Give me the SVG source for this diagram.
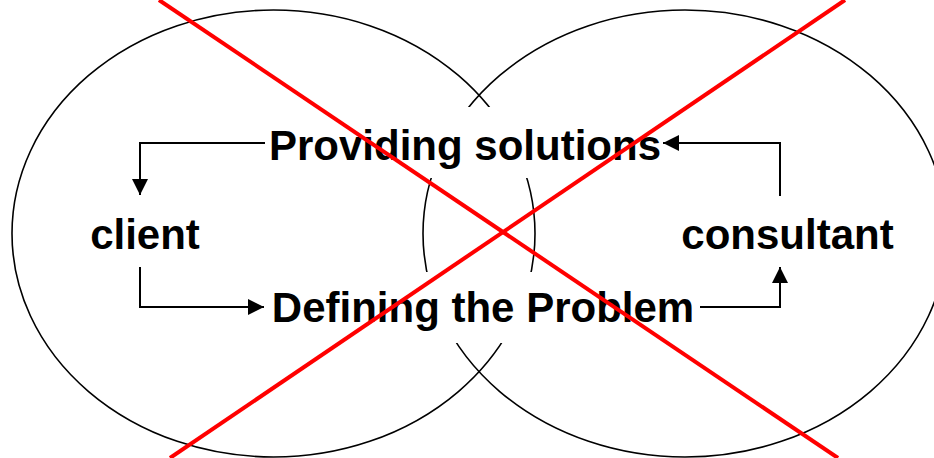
<svg xmlns="http://www.w3.org/2000/svg" width="934" height="458" viewBox="0 0 934 458">
  <style>
    .ring { fill: none; stroke: #000; stroke-width: 1.6; }
    .mask { fill: #fff; stroke: none; }
    .label { font-family: "Liberation Sans", Arial, sans-serif; font-weight: bold; font-size: 42px; fill: #000; }
    .flow { fill: none; stroke: #000; stroke-width: 2; }
    .cross { stroke: #ff0000; stroke-width: 4; stroke-linecap: butt; }
  </style>
  <defs>
    <marker id="arrow" markerUnits="userSpaceOnUse" markerWidth="16" markerHeight="16" viewBox="0 0 16 16" refX="16" refY="8" orient="auto">
      <path d="M0,0 L16,8 L0,16 Z" fill="#000"/>
    </marker>
  </defs>

  <!-- two overlapping spheres -->
  <g id="spheres">
    <ellipse class="ring" cx="273.5" cy="233.5" rx="261.5" ry="223.5"/>
    <ellipse class="ring" cx="685" cy="233.5" rx="262" ry="223.5"/>
  </g>

  <g id="providing-solutions">
    <rect class="mask" x="262" y="107" width="406" height="71"/>
    <text class="label" x="465" y="159.5" text-anchor="middle">Providing solutions</text>
  </g>

  <g id="defining-the-problem">
    <rect class="mask" x="268" y="272" width="430" height="71"/>
    <text class="label" x="483" y="322" text-anchor="middle">Defining the Problem</text>
  </g>

  <g id="client">
    <text class="label" x="145" y="249" text-anchor="middle">client</text>
  </g>

  <g id="consultant">
    <text class="label" x="787.5" y="249" text-anchor="middle">consultant</text>
  </g>

  <g id="connectors">
    <polyline class="flow" points="265,143 140,143 140,195" marker-end="url(#arrow)"/>
    <polyline class="flow" points="140,267 140,307 264,307" marker-end="url(#arrow)"/>
    <polyline class="flow" points="700,307 780,307 780,267" marker-end="url(#arrow)"/>
    <polyline class="flow" points="780,196 780,143 663,143" marker-end="url(#arrow)"/>
  </g>

  <!-- red cross over the whole figure -->
  <g id="cross">
    <line class="cross" x1="159" y1="0" x2="838" y2="458"/>
    <line class="cross" x1="845" y1="0" x2="170" y2="458"/>
  </g>
</svg>
